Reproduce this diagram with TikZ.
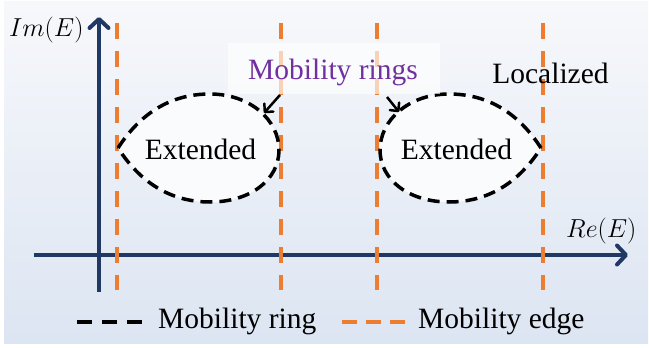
\RequirePackage{fix-cm}
\documentclass[tikz,border=0pt]{standalone}
\usepackage{fontspec}
\setmainfont{Liberation Serif}
\usetikzlibrary{arrows.meta}
\definecolor{navy}{HTML}{203864}
\definecolor{edgeorange}{HTML}{ED7D31}
\definecolor{ringpurple}{HTML}{7030A0}
\definecolor{bgtop}{HTML}{F7F8FB}
\definecolor{bgbottom}{HTML}{DCE5F2}
\definecolor{blobfill}{HTML}{FAFBFD}
\tikzset{
  txt/.style={inner sep=0pt, font=\fontsize{29.5}{30}\selectfont},
  mathlbl/.style={inner sep=0pt, font=\fontsize{26}{28}\selectfont},
  axis/.style={draw=navy, line width=4pt, -{Straight Barb[length=9pt,width=19pt,round]}},
  edgeline/.style={draw=edgeorange, line width=4.5pt, dash pattern=on 16pt off 12pt},
  ringline/.style={draw=black, line width=3.5pt, dash pattern=on 12pt off 7pt},
  blob/.style={ringline, fill=blobfill},
  pointer/.style={draw=black, line width=2.5pt, -{Straight Barb[length=6pt,width=12pt,round]}},
}
\begin{document}
\begin{tikzpicture}[x=1pt,y=-1pt]
\useasboundingbox (0,0) rectangle (649,348);
% panel with vertical gradient
\shade[top color=bgtop, bottom color=bgbottom] (4,1) rectangle (648,343);

% axes
\coordinate (ybot) at (99,292);
\coordinate (ytop) at (99,17);
\coordinate (xleft) at (34,255);
\coordinate (xright) at (628,255);
\draw[axis] (ybot) -- (ytop);
\draw[axis] (xleft) -- (xright);

% mobility edges
\foreach \x/\n in {117/a,281/b,377/c,543/d}{
  \coordinate (e\n top) at (\x,23);
  \coordinate (e\n bot) at (\x,290);
  \draw[edgeline] (e\n top) -- (e\n bot);
}

% mobility rings enclosing extended regions
\draw[blob] (118,148) .. controls (140,114) and (170,94) .. (210,94)
  .. controls (250,94) and (279,120) .. (279,150)
  .. controls (279,180) and (250,202) .. (210,202)
  .. controls (170,202) and (140,182) .. (118,148) -- cycle;
\draw[blob] (541,148) .. controls (519,114) and (489,94) .. (449,94)
  .. controls (409,94) and (380,120) .. (380,150)
  .. controls (380,180) and (409,202) .. (449,202)
  .. controls (489,202) and (519,182) .. (541,148) -- cycle;

% label box
\fill[white, fill opacity=0.65] (228,43) rectangle (440,94);

% texts
\node[txt, anchor=base] (ext1) at (200.5,159) {Extended};
\node[txt, anchor=base] (ext2) at (456.5,159) {Extended};
\node[txt, anchor=base] (loc) at (550.5,83) {Localized};
\node[txt, anchor=base, text=ringpurple] (rings) at (333,79) {Mobility rings};
\node[mathlbl, anchor=base west] (im) at (9,37) {$Im(E)$};
\node[mathlbl, anchor=base west] (re) at (566,237) {$Re(E)$};

% pointers from the label to the rings
\coordinate (p1s) at (280,95);
\coordinate (p1e) at (264,113);
\coordinate (p2s) at (387,97);
\coordinate (p2e) at (399,112);
\draw[pointer] (p1s) -- (p1e);
\draw[pointer] (p2s) -- (p2e);

% legend
\coordinate (lk1a) at (77,322);
\coordinate (lk1b) at (142,322);
\coordinate (lk2a) at (342,322);
\coordinate (lk2b) at (405,322);
\draw[draw=black, line width=4pt, dash pattern=on 15pt off 10pt] (lk1a) -- (lk1b);
\draw[draw=edgeorange, line width=4pt, dash pattern=on 15pt off 9pt] (lk2a) -- (lk2b);
\node[txt, anchor=base west] (leg1) at (158,328) {Mobility ring};
\node[txt, anchor=base west] (leg2) at (418,328) {Mobility edge};
\end{tikzpicture}
\end{document}
